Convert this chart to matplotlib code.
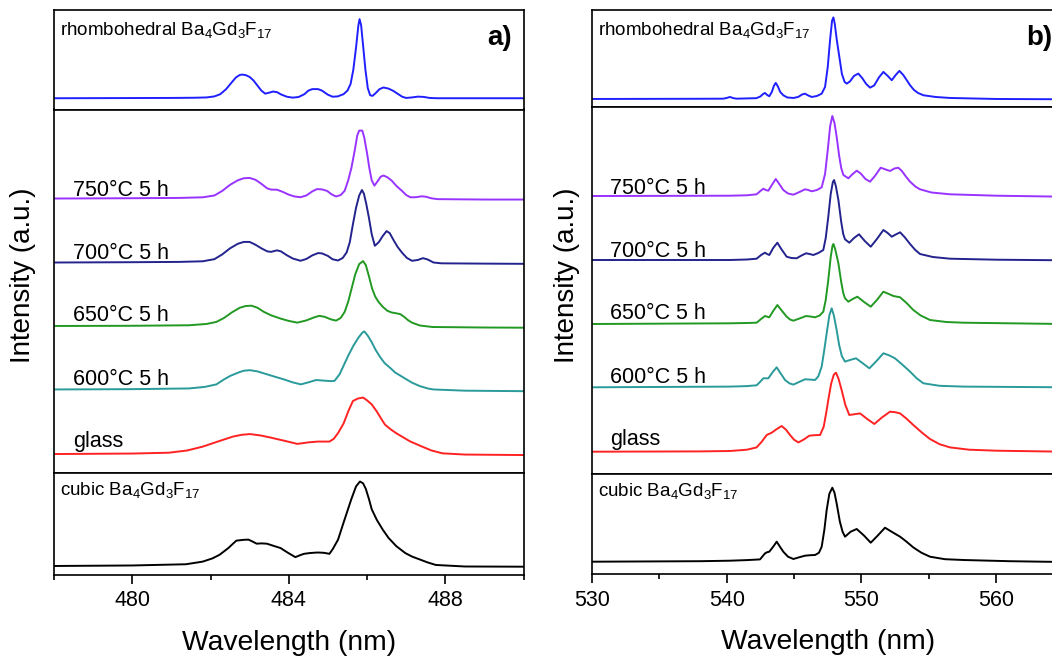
import numpy as np
import matplotlib
matplotlib.use("Agg")
import matplotlib.pyplot as plt
from matplotlib.ticker import MultipleLocator

plt.rcParams['font.family'] = ['Liberation Sans', 'DejaVu Sans']
plt.rcParams['mathtext.fontset'] = 'custom'
plt.rcParams['mathtext.rm'] = 'Liberation Sans'
plt.rcParams['mathtext.it'] = 'Liberation Sans:italic'
plt.rcParams['mathtext.bf'] = 'Liberation Sans:bold'

# ---------- panel a) 478-490 nm ----------
a_rh_x = [478, 480, 481, 481.6, 481.9, 482.1, 482.25, 482.4, 482.55, 482.65, 482.75, 482.82, 482.9,
          483.0, 483.1, 483.2, 483.3, 483.4, 483.5, 483.6, 483.7, 483.8, 483.95, 484.1, 484.25,
          484.4, 484.5, 484.6, 484.75, 484.85, 485.0, 485.12, 485.25, 485.4, 485.5, 485.58,
          485.65, 485.72, 485.78, 485.81, 485.85, 485.9, 485.96, 486.02, 486.08, 486.14, 486.22,
          486.32, 486.42, 486.55, 486.67, 486.78, 486.9, 487.0, 487.15, 487.3, 487.45, 487.6,
          487.8, 488.5, 490]
a_rh_y = [0, 0.2, 0.3, 0.5, 0.8, 1.8, 4, 9, 16, 20.5, 23, 23.3, 22.8,
          21, 17.5, 12.5, 7.5, 4.5, 5.5, 6.6, 6, 3.8, 1.5, 0.6, 1.2,
          4, 7.5, 9, 9, 7.5, 3.5, 1.5, 1.8, 4, 7.5, 14,
          28, 50, 72, 78, 72, 52, 28, 10, 3, 2.3, 5,
          9, 10.6, 9.5, 7.3, 4.5, 1.5, 0.3, 0.8, 1.6, 1.3, 0.3,
          0, 0, 0]

a_750_x = [478, 480, 481.2, 481.8, 482.1, 482.3, 482.5, 482.7, 482.85, 483.0, 483.15, 483.3, 483.45,
           483.55, 483.7, 483.85, 484.0, 484.15, 484.3, 484.45, 484.6, 484.72, 484.85, 484.98,
           485.1, 485.21, 485.33, 485.43, 485.52, 485.6, 485.68, 485.75, 485.8, 485.88, 485.93,
           486.0, 486.06, 486.12, 486.19, 486.27, 486.35, 486.42, 486.52, 486.63, 486.75, 486.89,
           487.0, 487.11, 487.25, 487.4, 487.5, 487.65, 487.8, 489, 490]
a_750_y = [0, 0.3, 0.6, 1.2, 3, 7.5, 13.5, 18, 20, 20.3, 18.5, 14.5, 10,
           8.8, 8.7, 6.5, 3.8, 2, 1.3, 3, 7, 9.3, 9, 7.5,
           4, 2, 3.5, 7.7, 18, 30, 46, 62, 67, 67, 60,
           45, 30, 18, 12.7, 17, 21.5, 22.7, 21, 17.7, 12.5, 7.7,
           3.5, 1.2, 1.3, 2.2, 1.8, 0.2, -0.6, -1, -1]

a_700_x = [478, 480, 481.2, 481.8, 482.1, 482.3, 482.5, 482.7, 482.85, 483.0, 483.15, 483.3, 483.45,
           483.55, 483.7, 483.8, 483.95, 484.1, 484.3, 484.45, 484.6, 484.75, 484.85, 485.0,
           485.12, 485.26, 485.38, 485.48, 485.56, 485.64, 485.72, 485.8, 485.87, 485.92, 485.98,
           486.05, 486.12, 486.2, 486.3, 486.4, 486.5, 486.58, 486.68, 486.78, 486.9, 487.02,
           487.15, 487.3, 487.43, 487.55, 487.7, 487.9, 489, 490]
a_700_y = [0, 0.3, 0.6, 1.2, 3.3, 8, 14, 18.5, 20.3, 20.3, 17.5, 14, 11,
           10.5, 12, 11, 7.2, 4, 1.7, 3.5, 7, 9.3, 9, 6.5,
           3.2, 2, 4.5, 10, 20, 37.7, 54, 66, 71.5, 68, 58,
           44, 28, 16.5, 20, 26, 31, 29, 22, 15.5, 9.5, 4.5,
           1.7, 2.5, 4.3, 3, 0, -0.8, -1.1, -1.3]

a_650_x = [478, 480, 481.45, 481.9, 482.15, 482.35, 482.55, 482.75, 482.9, 483.05, 483.2, 483.36,
           483.55, 483.79, 484.0, 484.22, 484.45, 484.65, 484.78, 484.92, 485.08, 485.21, 485.33,
           485.43, 485.52, 485.6, 485.7, 485.8, 485.9, 485.97, 486.05, 486.13, 486.21, 486.29,
           486.4, 486.52, 486.63, 486.75, 486.85, 486.95, 487.05, 487.15, 487.35, 487.67, 489, 490]
a_650_y = [0, 0.2, 0.7, 2, 4, 8, 13.5, 18, 19.7, 20, 18, 14,
           10.5, 7.3, 5, 3.3, 5.5, 8.5, 10, 9, 6.5, 5.3, 8,
           14, 24, 36, 51, 61, 64, 60, 49, 37, 29, 24,
           19, 15, 13.3, 12.5, 11.7, 9, 5.7, 3.3, 0.5, -1, -1.5, -1.7]

a_600_x = [478, 480, 481.45, 481.85, 482.15, 482.35, 482.5, 482.7, 482.85, 483.01, 483.2, 483.44,
           483.65, 483.87, 484.1, 484.31, 484.5, 484.7, 484.9, 485.08, 485.17, 485.3, 485.42,
           485.52, 485.65, 485.78, 485.88, 485.93, 486.02, 486.12, 486.22, 486.34, 486.45, 486.6,
           486.72, 486.9, 487.05, 487.15, 487.35, 487.55, 487.7, 488.5, 490]
a_600_y = [0, 0.3, 1, 2.5, 5, 10, 13.3, 16.5, 18.5, 19, 17.8, 15,
           12.5, 10, 7, 5, 7, 9.3, 8.7, 8.2, 8.5, 15, 25,
           33.3, 43, 51, 56, 57.3, 53, 46.7, 39, 31.7, 26, 21,
           16.7, 12.5, 9, 6.7, 3.3, 1, 0, -1.2, -1.7]

a_gl_x = [478, 480, 480.93, 481.4, 481.8, 482.2, 482.58, 482.8, 483.01, 483.3, 483.53, 483.9, 484.22,
          484.5, 484.74, 485.04, 485.15, 485.26, 485.4, 485.52, 485.64, 485.77, 485.9, 486.0,
          486.12, 486.25, 486.36, 486.46, 486.6, 486.75, 486.89, 487.1, 487.41, 487.65, 487.93,
          488.5, 490]
a_gl_y = [0, 0.5, 1.3, 3.5, 7.3, 12.5, 17.3, 19, 19.7, 18.2, 16.3, 13, 10,
          11.5, 12.3, 12.3, 15, 20.7, 30, 42, 52.3, 54.8, 55.7, 53,
          49, 42, 35, 29, 24.5, 20.5, 17.3, 12.5, 7.3, 3.5, 0.7,
          -0.5, -1]

a_cu_x = [478, 480, 481.37, 481.8, 482.05, 482.23, 482.45, 482.66, 482.85, 482.97, 483.08, 483.18,
          483.3, 483.44, 483.6, 483.79, 483.98, 484.17, 484.28, 484.39, 484.55, 484.74, 484.9,
          485.04, 485.13, 485.26, 485.42, 485.6, 485.72, 485.82, 485.9, 485.97, 486.05, 486.12,
          486.25, 486.4, 486.55, 486.75, 486.98, 487.15, 487.33, 487.55, 487.76, 488.5, 490]
a_cu_y = [0, 0.5, 1.7, 4.3, 7.5, 11, 17.5, 25, 25.8, 26, 24, 22,
          22.3, 22, 20, 17.7, 13, 8.7, 10.5, 12, 12.8, 13.3, 13,
          12, 17, 26, 45, 66, 78.5, 83.3, 81.5, 76, 66, 56,
          45.5, 36, 27.7, 19.5, 12.7, 9.3, 6.7, 3.5, 1, -0.5, -0.7]

# ---------- panel b) 530-565 nm ----------
b_rh_x = [530, 538, 539.75, 540.0, 540.24, 540.5, 540.74, 542.2, 542.5, 542.7, 542.84, 543.0, 543.16,
          543.35, 543.5, 543.64, 543.8, 543.97, 544.2, 544.5, 544.95, 545.3, 545.6, 545.81, 546.05,
          546.31, 546.7, 547.05, 547.3, 547.5, 547.68, 547.82, 547.92, 548.02, 548.18, 548.36,
          548.55, 548.75, 548.91, 549.15, 549.45, 549.77, 550.05, 550.35, 550.64, 550.95, 551.3,
          551.63, 551.95, 552.25, 552.55, 552.82, 553.1, 553.35, 553.61, 553.9, 554.2, 554.6,
          555.5, 556.58, 560, 565]
b_rh_y = [0, 0.2, 0.3, 1, 2, 0.8, 0.3, 0.8, 2.5, 5, 6, 4, 2.7,
          7, 13, 16, 12.5, 7, 3.7, 1.5, 1, 2, 4.5, 5.3, 3.5,
          2, 3, 5.3, 12, 32, 60, 78, 81.3, 75, 58, 42,
          25, 17, 15.3, 17.5, 23, 25.3, 21, 15, 11.3, 13.5, 21.5,
          27, 23, 18.7, 24, 28, 24, 19, 13.7, 9, 6, 3.7,
          2, 1, 0, -0.3]

b_750_x = [530, 538, 540.24, 541.5, 542.22, 542.5, 542.72, 542.9, 543.09, 543.35, 543.64, 543.9,
           544.2, 544.55, 544.95, 545.4, 545.81, 546.05, 546.31, 546.7, 547.05, 547.3, 547.5,
           547.68, 547.84, 548.0, 548.16, 548.35, 548.5, 548.66, 549.03, 549.35, 549.65, 549.95,
           550.3, 550.64, 551.0, 551.43, 551.8, 552.12, 552.45, 552.74, 553.0, 553.3, 553.61,
           554.0, 554.35, 555.2, 556.58, 560, 565]
b_750_y = [0, 0.2, 0.3, 0.7, 1.7, 5, 7.3, 6, 5.3, 11, 17, 12,
           6, 2.5, 1.3, 4, 6.7, 6, 4.7, 6, 8.7, 22, 46,
           70, 80, 73, 59.3, 40, 28, 21, 17.7, 22, 25.3, 22.5,
           17, 14.3, 20, 28.3, 26.5, 25, 27.5, 28.3, 25, 19.5, 14.3,
           9.5, 6.7, 3.5, 1.7, 0.3, -0.7]

b_700_x = [530, 540.24, 541.5, 542.22, 542.55, 542.84, 543.0, 543.16, 543.45, 543.76, 544.05,
           544.45, 544.8, 545.19, 545.55, 545.89, 546.15, 546.43, 546.8, 547.17, 547.35, 547.54,
           547.72, 547.88, 547.97, 548.1, 548.29, 548.5, 548.65, 548.78, 549.1, 549.45, 549.82,
           550.25, 550.69, 551.15, 551.63, 551.95, 552.25, 552.55, 552.87, 553.2, 553.61, 554.0,
           554.35, 555.3, 556.58, 560, 565]
b_700_y = [0, 0, 0.5, 1.3, 5, 7.3, 6, 5, 12, 17.3, 11,
           3.3, 2, 1.7, 4.5, 6.7, 6, 5, 7, 10, 22, 43.3,
           66, 78, 80, 74, 60, 38, 26, 20.7, 17.3, 22, 25.7,
           19, 13.3, 21, 30, 27, 23.3, 25.5, 27.7, 23, 16, 10,
           6, 3, 1.3, 0.3, -0.3]

b_650_x = [530, 540.24, 541.5, 542.22, 542.55, 542.84, 543.0, 543.16, 543.45, 543.76, 544.05,
           544.45, 544.7, 544.95, 545.4, 545.89, 546.2, 546.56, 546.9, 547.17, 547.35, 547.54,
           547.72, 547.85, 547.92, 548.05, 548.29, 548.5, 548.65, 548.78, 549.03, 549.35, 549.7,
           550.2, 550.69, 551.15, 551.63, 551.95, 552.37, 552.87, 553.35, 553.85, 554.4, 555.09,
           556.3, 557.57, 565]
b_650_y = [0, 0.7, 1, 1.3, 5, 8, 7.3, 6.7, 13, 19, 14,
           7.3, 4.5, 3.3, 5.5, 8, 7.5, 6.7, 8.5, 12.3, 24, 44,
           67, 78, 80, 75, 60.7, 42, 31, 25.7, 22.3, 25, 27.3,
           22, 17.3, 24, 32.3, 30.5, 28, 26.7, 21, 14, 8.5, 4,
           2, 1.3, 0]

b_600_x = [530, 540.24, 541.5, 542.22, 542.45, 542.72, 543.09, 543.4, 543.71, 544.0, 544.33,
           544.65, 544.95, 545.4, 545.81, 546.2, 546.56, 546.8, 547.05, 547.25, 547.42, 547.62,
           547.79, 547.95, 548.16, 548.35, 548.55, 548.78, 549.2, 549.6, 550.1, 550.59, 551.1,
           551.63, 552.05, 552.49, 553.05, 553.61, 554.1, 554.6, 555.8, 557.57, 565]
b_600_y = [0, 0.7, 1.2, 2, 5, 9, 9, 15, 20, 14, 7.3,
           4, 2.7, 5.5, 8, 7.7, 7.3, 11, 20.7, 38, 54, 72,
           79, 72, 57.3, 42, 31, 25.7, 27.5, 29, 24, 19, 26,
           34, 32, 29, 22.5, 15.7, 9, 4, 1.5, 0.7, 0]

b_gl_x = [530, 538, 540.24, 541.5, 542.22, 542.6, 542.97, 543.34, 543.7, 544.08, 544.4, 544.7,
          545.0, 545.32, 545.7, 546.13, 546.5, 546.93, 547.2, 547.4, 547.54, 547.75, 547.95,
          548.11, 548.3, 548.53, 548.8, 549.1, 549.5, 549.9, 550.4, 550.96, 551.5, 552.12,
          552.5, 552.87, 553.35, 553.85, 554.5, 555.09, 555.8, 556.58, 558, 560.04, 565]
b_gl_y = [0, 0.3, 0.7, 2, 4.3, 10, 16.7, 19, 22.5, 25.7, 22, 16.7,
          12, 9.3, 12, 16, 16.5, 16.7, 25, 40, 51.7, 68, 77,
          79, 73, 61.7, 47, 36.7, 37.5, 38.3, 33, 27.7, 34, 40,
          39.5, 38.3, 33, 26.7, 19, 12.7, 7.5, 4.3, 2, 1, 0]

b_cu_x = [530, 538, 540.24, 541.5, 542.47, 542.7, 542.84, 543.0, 543.16, 543.45, 543.71, 543.95,
          544.2, 544.55, 544.95, 545.4, 545.81, 546.2, 546.56, 546.85, 547.05, 547.25, 547.42,
          547.62, 547.84, 548.0, 548.16, 548.4, 548.6, 548.78, 549.2, 549.65, 550.2, 550.69,
          551.2, 551.75, 552.3, 552.87, 553.35, 553.85, 554.45, 555.09, 556.2, 557.57, 561, 565]
b_cu_y = [0, 0.5, 1, 1.6, 2.3, 6, 8.3, 9.5, 10, 15, 20, 15,
          10, 5, 2.7, 4.5, 6, 6.5, 6.7, 9, 15, 32, 51.7,
          68, 74, 69, 58.3, 40, 30, 25, 30, 32.7, 26, 19,
          26, 34, 29.5, 25, 20, 14.3, 9, 5, 2.5, 1.7, 0.5, -0.3]

series_labels = ['750°C 5 h', '700°C 5 h', '650°C 5 h', '600°C 5 h', 'glass']
series_colors = ['#9933ff', '#23238e', '#229922', '#2a9a9a', '#ff2222']
label_lift = [2, 3.3, 4.7, 4.6, 6.5]
rh_label = 'rhombohedral Ba$_4$Gd$_3$F$_{17}$'
cu_label = 'cubic Ba$_4$Gd$_3$F$_{17}$'

W, H = 1052, 660
fig = plt.figure(figsize=(W / 100, H / 100), dpi=100)


def px_axes(x0, y0, x1, y1):
    # pixel box (top-left origin) -> figure axes
    return fig.add_axes([x0 / W, 1 - y1 / H, (x1 - x0) / W, (y1 - y0) / H])


def style(ax, xlim, bottom=False):
    ax.set_xlim(*xlim)
    ax.set_yticks([])
    for s in ax.spines.values():
        s.set_linewidth(1.2)
    if not bottom:
        ax.set_xticks([])
        ax.tick_params(axis='x', which='both', bottom=False, labelbottom=False)


def panel(xl, xr, mid_top, mid_bot, bot_bot, xlim, major, minor,
          rh, series, offsets, cu, ylims, tag, lab_x):
    top = px_axes(xl, 10, xr, mid_top)
    mid = px_axes(xl, mid_top, xr, mid_bot)
    bot = px_axes(xl, mid_bot, xr, bot_bot)
    for ax in (top, mid):
        style(ax, xlim)
    style(bot, xlim, bottom=True)
    txt_x = 6 / (xr - xl)
    tag_x = 1 - 11.5 / (xr - xl)

    top.plot(rh[0], rh[1], color='#2020ff', lw=1.4)
    top.set_ylim(*ylims[0])
    top.text(txt_x, (mid_top - 34.5) / (mid_top - 10), rh_label, transform=top.transAxes,
             fontsize=13.5, va='baseline')
    top.text(tag_x, (mid_top - 38) / (mid_top - 10), tag, transform=top.transAxes,
             fontsize=20, fontweight='bold', ha='right', va='center')

    for (xs, ys), off, lab, c, lift in zip(series, offsets, series_labels, series_colors,
                                           label_lift):
        mid.plot(xs, np.array(ys) + off, color=c, lw=1.4)
        mid.text(lab_x, off + lift, lab, fontsize=15.5, va='baseline', ha='left')
    mid.set_ylim(*ylims[1])

    bot.plot(cu[0], cu[1], color='black', lw=1.4)
    bot.set_ylim(*ylims[2])
    bot.text(txt_x, (bot_bot - 495.5) / (bot_bot - mid_bot), cu_label, transform=bot.transAxes,
             fontsize=13.5, va='baseline')
    bot.xaxis.set_major_locator(MultipleLocator(major))
    bot.xaxis.set_minor_locator(MultipleLocator(minor))
    bot.tick_params(axis='x', which='major', direction='out', length=6.5, width=1.2,
                    labelsize=15.5, pad=5)
    bot.tick_params(axis='x', which='minor', direction='out', length=3.8, width=1.2)
    bot.set_xlabel('Wavelength (nm)', fontsize=20.3, labelpad=13)


# panel a)
panel(54, 523.5, 109.5, 472.5, 574.5, (478, 490), 4, 2,
      (a_rh_x, a_rh_y),
      [(a_750_x, a_750_y), (a_700_x, a_700_y), (a_650_x, a_650_y),
       (a_600_x, a_600_y), (a_gl_x, a_gl_y)],
      [270.2, 207.1, 144.5, 81.9, 18.2],
      (a_cu_x, a_cu_y),
      [(-11.1, 87.0), (0, 358), (-8.4, 92.2)], 'a)', 478.48)

# panel b)
panel(592, 1063.5, 107.3, 474, 574.3, (530, 565), 10, 5,
      (b_rh_x, b_rh_y),
      [(b_750_x, b_750_y), (b_700_x, b_700_y), (b_650_x, b_650_y),
       (b_600_x, b_600_y), (b_gl_x, b_gl_y)],
      [278, 214, 150, 86.7, 22.3],
      (b_cu_x, b_cu_y),
      [(-8.3, 88.7), (0, 366.7), (-12.6, 87.7)], 'b)', 531.34)

fig.text(22.8 / W, 1 - 275.5 / H, 'Intensity (a.u.)', rotation=90, fontsize=20,
         ha='center', va='center')
fig.text(567.5 / W, 1 - 275 / H, 'Intensity (a.u.)', rotation=90, fontsize=20,
         ha='center', va='center')

fig.savefig('out.png', dpi=100)
